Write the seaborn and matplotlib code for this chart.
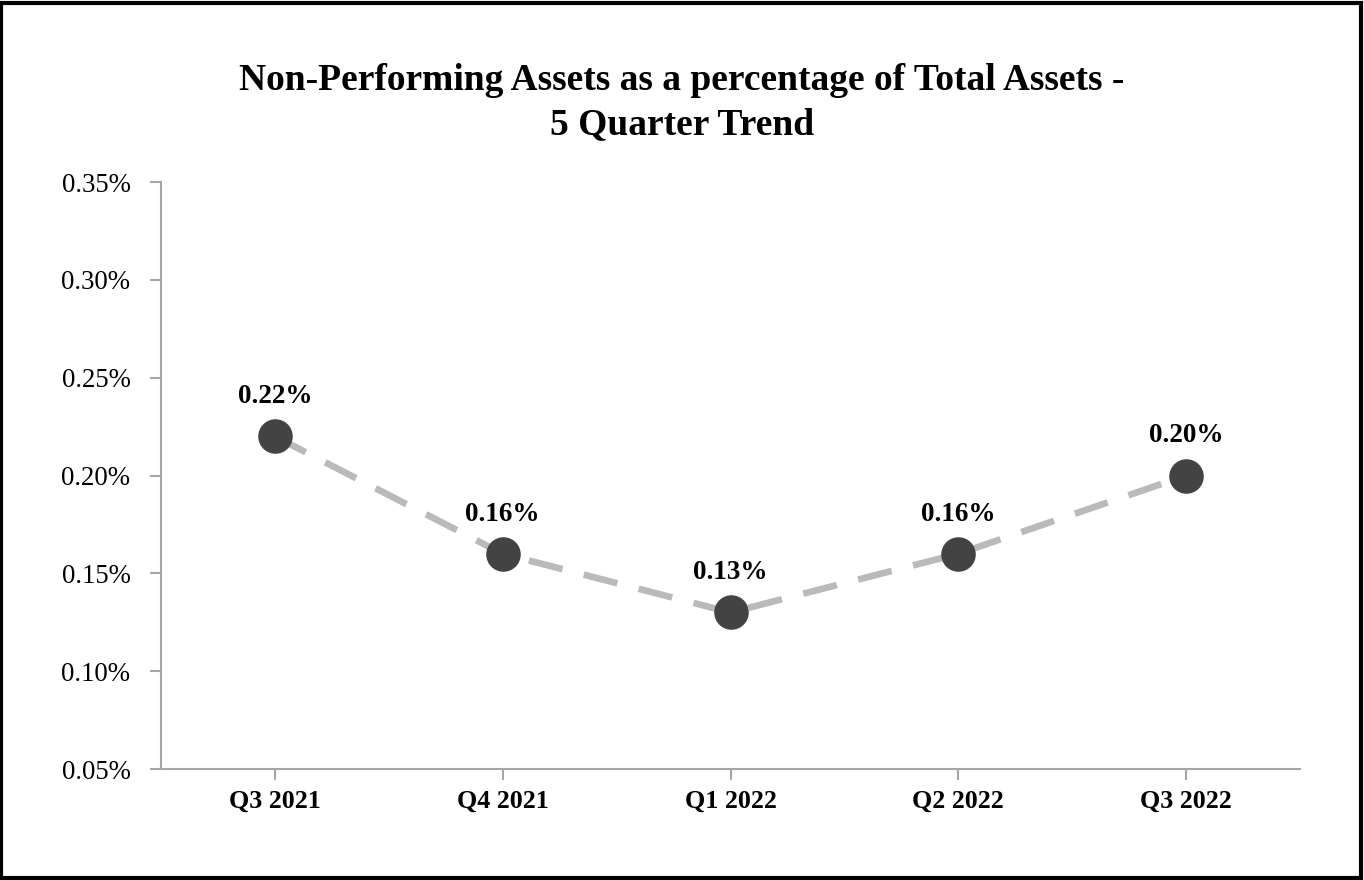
import matplotlib
matplotlib.use("Agg")
import matplotlib.pyplot as plt
import seaborn as sns
import pandas as pd

# Data
quarters = ["Q3 2021", "Q4 2021", "Q1 2022", "Q2 2022", "Q3 2022"]
npa_pct = [0.22, 0.16, 0.13, 0.16, 0.20]
y_ticks = [0.05, 0.10, 0.15, 0.20, 0.25, 0.30, 0.35]

df = pd.DataFrame({"quarter": quarters, "npa": npa_pct})

sns.set_style("white")
plt.rcParams["font.family"] = ["Liberation Serif", "DejaVu Serif"]
plt.rcParams["text.color"] = "black"
plt.rcParams["xtick.color"] = "black"
plt.rcParams["ytick.color"] = "black"

fig = plt.figure(figsize=(13.64, 8.8), dpi=100)
ax = fig.add_axes([161 / 1364, 1 - 769 / 880, (1300 - 161) / 1364, (769 - 182) / 880])

sns.lineplot(data=df, x="quarter", y="npa", ax=ax, color="#BABABA",
             linewidth=4.8, linestyle=(0, (5.2, 3.3)), sort=False)
sns.scatterplot(data=df, x="quarter", y="npa", ax=ax, color="#434343",
                s=530, edgecolor="#434343", zorder=3, legend=False)

for i, v in enumerate(npa_pct):
    ax.annotate(f"{v:.2f}%", (i, v), xytext=(0, 19.5), textcoords="offset points",
                ha="center", va="bottom", fontsize=19.5, fontweight="bold")

ax.set_xlim(-0.5, 4.5)
ax.set_ylim(0.05, 0.35)
ax.set_yticks(y_ticks)
ax.set_yticklabels([f"{t:.2f}%" for t in y_ticks], fontsize=19.3)
ax.set_xticks(range(len(quarters)))
ax.set_xticklabels(quarters, fontsize=18.7, fontweight="bold")
ax.set_xlabel("")
ax.set_ylabel("")

for side in ["top", "right"]:
    ax.spines[side].set_visible(False)
for side in ["left", "bottom"]:
    ax.spines[side].set_color("#A6A6A6")
    ax.spines[side].set_linewidth(1.5)
ax.tick_params(axis="both", which="both", length=8, width=1.5, color="#A6A6A6",
               labelcolor="black", direction="out", left=True, bottom=True)
ax.tick_params(axis="y", pad=14)
ax.tick_params(axis="x", pad=7)

fig.text(0.5, 1 - 80 / 880, "Non-Performing Assets as a percentage of Total Assets -",
         ha="center", va="center", fontsize=27, fontweight="bold")
fig.text(0.5, 1 - 125 / 880, "5 Quarter Trend",
         ha="center", va="center", fontsize=27, fontweight="bold")

# Outer border
fig.patches.append(plt.Rectangle((0.001, 0.002), 0.997, 0.995, transform=fig.transFigure,
                                 fill=False, edgecolor="black", linewidth=3))

fig.savefig("out.png", dpi=100)
